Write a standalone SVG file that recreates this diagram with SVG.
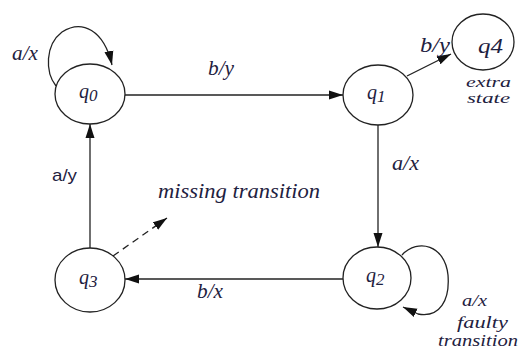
<svg xmlns="http://www.w3.org/2000/svg" width="519" height="349" viewBox="0 0 519 349">
<style>
.n{fill:#fff;stroke:#222;stroke-width:1.3}
.e{fill:none;stroke:#222;stroke-width:1.3}
.t{font-family:"Liberation Serif","Times New Roman",serif;font-style:italic;font-size:20px;fill:#1e2140}
.m{font-size:17px}
.x{font-size:15px}
.s{font-family:"Liberation Sans",sans-serif;font-size:17px;fill:#1e2140}
</style>
<defs>
<marker id="ahl" viewBox="0 0 14 10" refX="14" refY="5" markerWidth="14" markerHeight="10" markerUnits="userSpaceOnUse" orient="auto">
<path d="M0,0.5 L14,5 L0,9.5 z" fill="#111"/>
</marker>
</defs>
<rect width="519" height="349" fill="#fff"/>
<g id="connectors">
<path class="e" d="M125,95 H343" marker-end="url(#ahl)"/>
<path class="e" d="M407,76 L451,54" marker-end="url(#ahl)"/>
<path class="e" d="M378,125 V247" marker-end="url(#ahl)"/>
<path class="e" d="M343,279 H125" marker-end="url(#ahl)"/>
<path class="e" d="M90,248 V124" marker-end="url(#ahl)"/>
<path class="e" d="M113,256 L167,218" stroke-dasharray="7,5" marker-end="url(#ahl)"/>
<path class="e" d="M56,86 C45,72 45,45 62,32 C82,19 104,30 112,65" marker-end="url(#ahl)"/>
<path class="e" d="M402,255 C418,238 445,245 448,275 C450,300 440,318 418,314 L403,307" marker-end="url(#ahl)"/>
</g>
<g id="q0"><ellipse class="n" cx="90" cy="94" rx="35" ry="30"/><text class="t" x="79" y="98" font-size="21">q<tspan font-size="17" dy="3">0</tspan></text></g>
<g id="q1"><ellipse class="n" cx="378" cy="95" rx="35" ry="30"/><text class="t" x="367" y="99" font-size="21">q<tspan font-size="17" dy="3">1</tspan></text></g>
<g id="q4"><ellipse class="n" cx="483" cy="42" rx="31" ry="28"/><text class="t" x="478" y="53" textLength="25" lengthAdjust="spacingAndGlyphs">q4</text></g>
<g id="q2"><ellipse class="n" cx="377" cy="278" rx="34" ry="31"/><text class="t" x="366" y="282" font-size="21">q<tspan font-size="17" dy="3">2</tspan></text></g>
<g id="q3"><ellipse class="n" cx="90" cy="280" rx="35" ry="32"/><text class="t" x="79" y="284" font-size="21">q<tspan font-size="17" dy="3">3</tspan></text></g>
<g id="labels">
<text class="t" x="12" y="60" textLength="26" lengthAdjust="spacingAndGlyphs">a/x</text>
<text class="t" x="208" y="75" textLength="26" lengthAdjust="spacingAndGlyphs">b/y</text>
<text class="t" x="420" y="52" textLength="30" lengthAdjust="spacingAndGlyphs">b/y</text>
<text class="t x" x="466" y="87" textLength="45" lengthAdjust="spacingAndGlyphs">extra</text>
<text class="t x" x="467" y="103" textLength="43" lengthAdjust="spacingAndGlyphs">state</text>
<text class="t" x="392" y="170" textLength="27" lengthAdjust="spacingAndGlyphs">a/x</text>
<text class="s" x="52" y="181" textLength="25" lengthAdjust="spacingAndGlyphs">a/y</text>
<text class="t" x="158" y="198" textLength="162" lengthAdjust="spacingAndGlyphs">missing transition</text>
<text class="t" x="197" y="298" textLength="26" lengthAdjust="spacingAndGlyphs">b/x</text>
<text class="t m" x="462" y="306" textLength="25" lengthAdjust="spacingAndGlyphs">a/x</text>
<text class="t m" x="457" y="328" textLength="51" lengthAdjust="spacingAndGlyphs">faulty</text>
<text class="t m" x="438" y="346" textLength="80" lengthAdjust="spacingAndGlyphs">transition</text>
</g>
</svg>
